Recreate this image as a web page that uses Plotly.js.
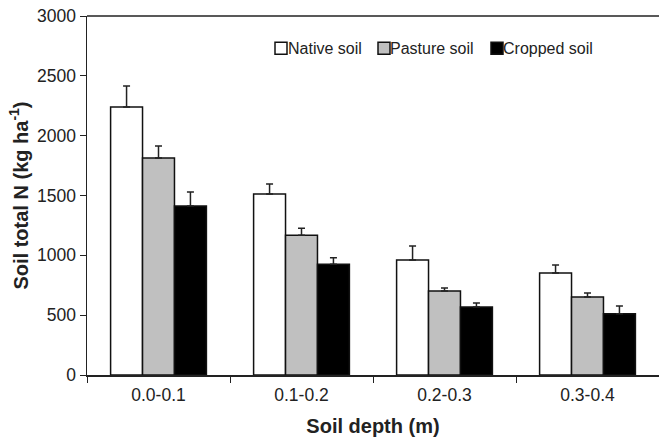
<!DOCTYPE html>
<html><head><meta charset="utf-8">
<script src="https://cdn.plot.ly/plotly-3.0.1.min.js"></script>
<style>html,body{margin:0;padding:0;background:#fff}#c{width:659px;height:443px}</style>
</head><body><div id="c"></div>
<script>
const depths = ["0.0-0.1", "0.1-0.2", "0.2-0.3", "0.3-0.4"];
const nativeN = [2240, 1512, 962, 852];
const nativeErr = [175, 84, 117, 67];
const pastureN = [1813, 1168, 702, 652];
const pastureErr = [100, 58, 25, 33];
const croppedN = [1412, 925, 568, 512];
const croppedErr = [117, 55, 33, 64];
const seriesNames = ["Native soil", "Pasture soil", "Cropped soil"];

function tr(name, y, e, color) {
  return {
    type: "bar", name: name, x: depths, y: y,
    marker: {color: color, line: {color: "#111", width: 1.5}},
    error_y: {type: "data", array: e, symmetric: false, arrayminus: e.map(() => 0),
              color: "#222", thickness: 1.5, width: 3.5}
  };
}
const data = [
  tr(seriesNames[0], nativeN, nativeErr, "#ffffff"),
  tr(seriesNames[1], pastureN, pastureErr, "#c0c0c0"),
  tr(seriesNames[2], croppedN, croppedErr, "#000000")
];
const layout = {
  width: 659, height: 443,
  margin: {l: 87, r: 0, t: 16, b: 68},
  paper_bgcolor: "#fff", plot_bgcolor: "#fff",
  font: {family: "Liberation Sans, Arial, sans-serif", color: "#222", size: 14},
  barmode: "group", bargap: 0.33, bargroupgap: 0,
  showlegend: true,
  legend: {orientation: "h", x: 0.3, y: 0.91, xanchor: "left", yanchor: "middle",
           font: {size: 16, color: "#222"}, bgcolor: "rgba(0,0,0,0)", itemwidth: 30, tracegroupgap: 0},
  xaxis: {
    title: {text: "<b>Soil depth (m)</b>", font: {size: 20, color: "#222"}, standoff: 15},
    showline: true, linecolor: "#222", linewidth: 1.5,
    ticks: "outside", tickcolor: "#222", ticklen: 6, tickson: "boundaries",
    ticklabelstandoff: 3,
    tickfont: {size: 17.5, color: "#222"}, showgrid: false, zeroline: false
  },
  yaxis: {
    title: {text: "<b>Soil total N (kg ha<sup>-1</sup>)</b>", font: {size: 20, color: "#222"}, standoff: 3},
    range: [0, 3000], dtick: 500, showline: true, linecolor: "#222", linewidth: 1.5,
    ticks: "outside", tickcolor: "#222", ticklen: 6, tickfont: {size: 17.5, color: "#222"},
    showgrid: false, zeroline: false
  },
  shapes: [{type: "line", xref: "paper", yref: "paper", x0: 0, x1: 1, y0: 1, y1: 1,
            line: {color: "#222", width: 1.5}}]
};
Plotly.newPlot("c", data, layout, {displayModeBar: false, staticPlot: true}).then(function (gd) {
  // tighten legend entries: marker left edge and text start as in the reference
  const want = [{m: 275, t: 288}, {m: 378, t: 390}, {m: 491, t: 503}];
  const root = gd.getBoundingClientRect();
  gd.querySelectorAll(".legend .traces").forEach(function (g, i) {
    if (!want[i]) return;
    const pts = g.querySelector(".legendpoints");
    const txt = g.querySelector(".legendtext");
    const m = /translate\(\s*([-\d.]+)[ ,]+([-\d.]+)\s*\)/.exec(g.getAttribute("transform") || "");
    const tx = m ? parseFloat(m[1]) : 0, ty = m ? parseFloat(m[2]) : 0;
    const mb = pts.getBoundingClientRect();
    const dx = want[i].m - (mb.left - root.left);
    g.setAttribute("transform", "translate(" + (tx + dx) + "," + ty + ")");
    const tb = txt.getBoundingClientRect();
    const cx = parseFloat(txt.getAttribute("x") || "0");
    txt.setAttribute("x", cx + (want[i].t - (tb.left - root.left)));
  });
});
</script></body></html>
